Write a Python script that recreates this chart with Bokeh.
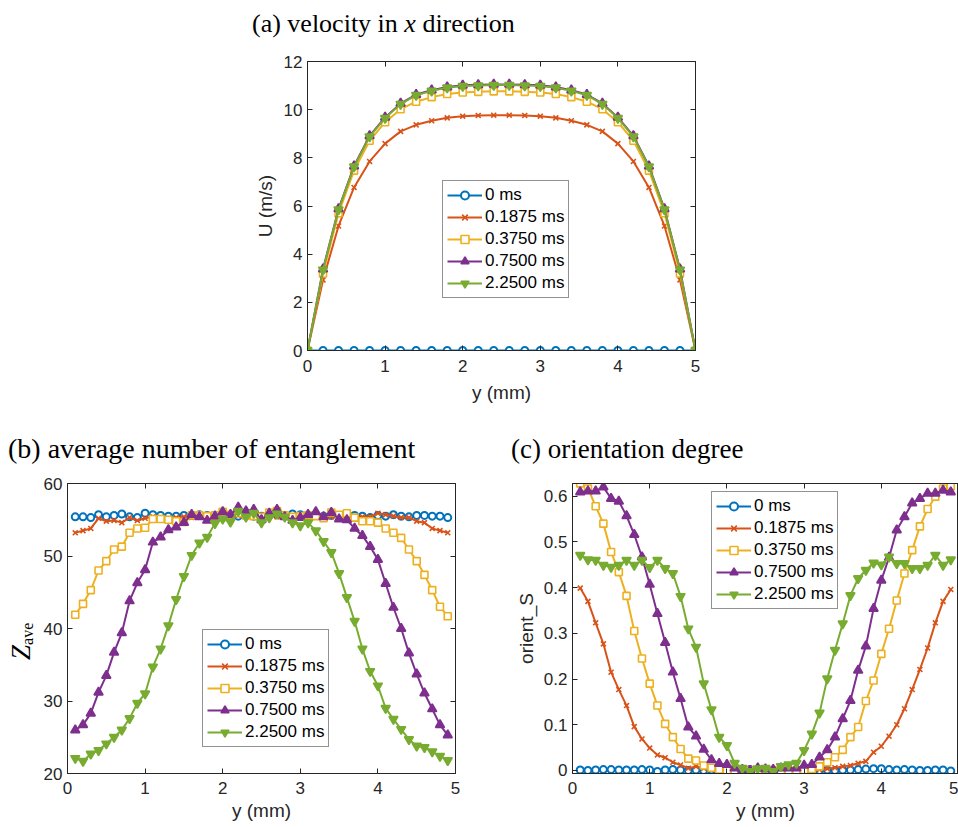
from bokeh.plotting import figure
from bokeh.layouts import column, row
from bokeh.models import Range1d, LinearAxis, FixedTicker, Legend, LegendItem, Div
from bokeh.embed import file_html
from bokeh.resources import INLINE

# ---------------- data ----------------
series_labels = ["0 ms", "0.1875 ms", "0.3750 ms", "0.7500 ms", "2.2500 ms"]
colors = ["#0072BD", "#D95319", "#EDB120", "#7E2F8E", "#77AC30"]

# (a) velocity in x direction
y_a = [0.0, 0.2, 0.4, 0.6, 0.8, 1.0, 1.2, 1.4, 1.6, 1.8, 2.0, 2.2, 2.4,
       2.6, 2.8, 3.0, 3.2, 3.4, 3.6, 3.8, 4.0, 4.2, 4.4, 4.6, 4.8, 5.0]
U_0 = [0, 0, 0, 0, 0, 0, 0, 0, 0, 0, 0, 0, 0,
       0, 0, 0, 0, 0, 0, 0, 0, 0, 0, 0, 0, 0]
U_01875 = [0, 2.93, 5.17, 6.77, 7.85, 8.59, 9.10, 9.37, 9.54, 9.66, 9.73, 9.76, 9.77,
           9.77, 9.76, 9.73, 9.66, 9.54, 9.37, 9.10, 8.59, 7.85, 6.77, 5.17, 2.93, 0]
U_0375 = [0, 3.20, 5.70, 7.47, 8.71, 9.48, 10.02, 10.33, 10.52, 10.65, 10.71, 10.74, 10.76,
          10.76, 10.74, 10.71, 10.65, 10.52, 10.33, 10.02, 9.48, 8.71, 7.47, 5.70, 3.20, 0]
U_075 = [0, 3.38, 5.88, 7.66, 8.91, 9.68, 10.26, 10.63, 10.81, 10.94, 11.01, 11.03, 11.05,
         11.05, 11.03, 11.01, 10.94, 10.81, 10.63, 10.26, 9.68, 8.91, 7.66, 5.88, 3.38, 0]
U_225 = [0, 3.35, 5.85, 7.63, 8.88, 9.65, 10.23, 10.60, 10.78, 10.91, 10.98, 11.00, 11.02,
         11.02, 11.00, 10.98, 10.91, 10.78, 10.60, 10.23, 9.65, 8.88, 7.63, 5.85, 3.35, 0]

# (b) and (c) sample positions
y_bc = [0.1, 0.2, 0.3, 0.4, 0.5, 0.6, 0.7, 0.8, 0.9, 1.0,
        1.1, 1.2, 1.3, 1.4, 1.5, 1.6, 1.7, 1.8, 1.9, 2.0,
        2.1, 2.2, 2.3, 2.4, 2.5, 2.6, 2.7, 2.8, 2.9, 3.0,
        3.1, 3.2, 3.3, 3.4, 3.5, 3.6, 3.7, 3.8, 3.9, 4.0,
        4.1, 4.2, 4.3, 4.4, 4.5, 4.6, 4.7, 4.8, 4.9]

# (b) average number of entanglement
Z_0 = [55.4, 55.4, 55.3, 55.7, 55.4, 55.6, 55.8, 55.4, 55.3, 55.9,
       55.7, 55.6, 55.5, 55.5, 55.6, 55.6, 55.7, 55.6, 55.5, 55.6,
       55.6, 55.5, 55.6, 55.5, 55.5, 55.6, 55.7, 55.6, 55.8, 55.7,
       55.6, 55.7, 55.5, 55.6, 55.5, 55.7, 55.6, 55.5, 55.3, 55.6,
       55.5, 55.7, 55.5, 55.4, 55.6, 55.6, 55.5, 55.5, 55.3]
Z_01875 = [53.2, 53.5, 53.8, 55.2, 54.8, 54.9, 54.6, 55.3, 54.9, 55.2,
           55.4, 55.3, 55.2, 55.3, 55.4, 55.3, 55.5, 55.4, 55.3, 55.5,
           55.4, 55.6, 55.5, 55.4, 55.6, 55.5, 55.4, 55.6, 55.5, 55.4,
           55.5, 55.3, 55.5, 55.4, 55.6, 55.5, 55.3, 55.4, 55.4, 55.9,
           55.7, 55.5, 55.3, 55.3, 54.8, 54.6, 53.8, 53.5, 53.2]
Z_0375 = [41.9, 43.4, 45.3, 48.0, 49.3, 50.9, 51.3, 53.2, 53.8, 53.9,
          55.1, 55.1, 55.0, 54.8, 54.7, 55.6, 55.6, 55.5, 55.6, 56.1,
          55.7, 55.9, 55.6, 55.5, 55.4, 56.0, 56.2, 55.6, 55.4, 55.5,
          55.6, 55.5, 55.2, 56.0, 55.7, 55.9, 55.3, 54.8, 54.8, 54.6,
          53.8, 53.2, 52.5, 50.9, 49.3, 47.4, 45.3, 43.0, 41.7]
Z_075 = [26.0, 26.7, 28.3, 31.2, 33.5, 36.7, 39.4, 43.8, 46.3, 48.1,
         51.9, 52.6, 53.6, 54.0, 54.6, 55.7, 55.4, 54.9, 55.5, 56.1,
         55.7, 56.7, 56.2, 56.4, 55.0, 55.9, 56.4, 55.4, 54.9, 55.3,
         55.7, 56.1, 55.4, 56.0, 55.1, 55.0, 53.8, 52.8, 51.3, 49.5,
         46.2, 42.9, 40.0, 36.6, 33.7, 31.1, 28.9, 26.7, 25.3]
Z_225 = [22.1, 21.7, 22.7, 23.2, 24.1, 25.0, 26.0, 27.6, 29.7, 31.0,
         34.7, 37.2, 40.4, 44.0, 47.2, 50.1, 51.8, 52.6, 54.5, 55.1,
         54.7, 56.2, 55.4, 55.9, 54.6, 55.3, 55.8, 55.4, 54.6, 54.2,
         54.6, 53.5, 52.0, 50.5, 47.6, 44.3, 41.0, 37.2, 34.1, 32.1,
         29.0, 27.5, 26.1, 24.7, 23.8, 23.6, 23.0, 22.4, 21.8]

# (c) orientation degree
S_0 = [0.001, 0.000, 0.001, 0.002, 0.002, 0.001, 0.001, 0.001, 0.002, 0.001,
       -0.002, 0.001, 0.002, 0.001, 0.000, 0.001, 0.000, 0.001, 0.001, -0.001,
       0.000, 0.001, 0.002, 0.001, 0.000, 0.001, 0.000, 0.000, 0.001, 0.002,
       0.001, 0.000, 0.001, 0.000, 0.001, 0.001, 0.002, 0.003, 0.004, 0.004,
       0.002, 0.001, 0.002, 0.001, 0.000, 0.000, 0.001, 0.001, -0.001]
S_01875 = [0.399, 0.370, 0.323, 0.277, 0.215, 0.177, 0.142, 0.096, 0.069, 0.049,
           0.034, 0.028, 0.018, 0.012, 0.005, 0.009, 0.005, 0.004, 0.003, 0.002,
           0.002, 0.001, 0.001, 0.001, 0.001, 0.000, 0.000, 0.001, 0.001, 0.001,
           0.002, 0.002, 0.004, 0.006, 0.009, 0.011, 0.016, 0.020, 0.040, 0.053,
           0.075, 0.100, 0.135, 0.177, 0.221, 0.268, 0.323, 0.370, 0.396]
S_0375 = [0.628, 0.617, 0.578, 0.540, 0.478, 0.434, 0.382, 0.305, 0.245, 0.190,
          0.142, 0.102, 0.073, 0.047, 0.026, 0.022, 0.011, 0.006, 0.002, 0.000,
          0.000, 0.001, 0.000, 0.000, 0.001, 0.000, 0.000, 0.000, 0.000, 0.001,
          0.003, 0.009, 0.018, 0.029, 0.045, 0.073, 0.095, 0.152, 0.197, 0.255,
          0.310, 0.372, 0.431, 0.482, 0.534, 0.572, 0.599, 0.617, 0.622]
S_075 = [0.609, 0.611, 0.611, 0.620, 0.595, 0.589, 0.557, 0.516, 0.467, 0.407,
         0.343, 0.280, 0.215, 0.157, 0.095, 0.075, 0.046, 0.023, 0.015, 0.013,
         0.005, 0.002, 0.000, 0.005, 0.003, 0.002, 0.005, 0.005, 0.005, 0.011,
         0.013, 0.029, 0.045, 0.073, 0.113, 0.153, 0.219, 0.272, 0.354, 0.416,
         0.466, 0.526, 0.555, 0.585, 0.595, 0.606, 0.606, 0.613, 0.609]
S_225 = [0.471, 0.461, 0.460, 0.449, 0.445, 0.449, 0.460, 0.449, 0.460, 0.444,
         0.460, 0.442, 0.431, 0.381, 0.310, 0.270, 0.190, 0.133, 0.073, 0.055,
         0.016, 0.005, -0.002, 0.004, 0.005, -0.002, 0.009, 0.013, 0.016, 0.044,
         0.080, 0.126, 0.201, 0.263, 0.321, 0.383, 0.420, 0.438, 0.454, 0.450,
         0.467, 0.453, 0.453, 0.442, 0.442, 0.449, 0.471, 0.449, 0.461]

x_ticks = [0, 1, 2, 3, 4, 5]
ticks_a = [0, 2, 4, 6, 8, 10, 12]
ticks_b = [20, 30, 40, 50, 60]
ticks_c = [0, 0.1, 0.2, 0.3, 0.4, 0.5, 0.6]

# ---------------- styling ----------------
INK = "#262626"
SANS = "Liberation Sans"
markers = ["circle", "x", "square", "triangle", "inverted_triangle"]
msizes = [7, 7, 7, 9, 9]
mlw = [2.0, 1.6, 1.6, 1.6, 1.6]
mfill = ["white", None, "white", "self", "self"]


def style_axis(ax, ticks, labels=True, standoff=6):
    ax.ticker = FixedTicker(ticks=ticks)
    ax.major_tick_in = 5
    ax.major_tick_out = 0
    ax.minor_tick_line_color = None
    ax.axis_line_color = INK
    ax.major_tick_line_color = INK
    ax.axis_line_width = 1
    ax.major_label_text_font = SANS
    if labels:
        ax.major_label_text_font_size = "17px"
        ax.major_label_text_color = INK
        ax.major_label_standoff = standoff
    else:
        ax.major_label_text_font_size = "1px"
        ax.major_label_text_color = None
        ax.major_label_standoff = 0
    ax.axis_label_text_font = SANS
    ax.axis_label_text_font_size = "19px"
    ax.axis_label_text_font_style = "normal"
    ax.axis_label_text_color = INK


def make_fig(w, h, bl, br, bt, bb, xr, yr, yticks, right_axis=True):
    p = figure(width=w, height=h, x_range=Range1d(*xr), y_range=Range1d(*yr),
               output_backend="svg", toolbar_location=None,
               min_border_left=bl, min_border_right=br,
               min_border_top=bt, min_border_bottom=bb)
    p.grid.visible = False
    p.outline_line_color = INK
    p.outline_line_width = 1
    p.background_fill_color = "white"
    p.border_fill_color = "white"
    xb = p.below[0]
    yl = p.left[0]
    style_axis(xb, x_ticks, True, 9)
    style_axis(yl, yticks, True, 5)
    top = LinearAxis()
    style_axis(top, x_ticks, False)
    p.add_layout(top, "above")
    if right_axis:
        right = LinearAxis()
        style_axis(right, yticks, False)
        p.add_layout(right, "right")
    return p, xb, yl


def add_series(p, xs, ys_list, loc):
    items = []
    for ys, lab, col, mk, ms, lw, mf in zip(ys_list, series_labels, colors, markers,
                                            msizes, mlw, mfill):
        r1 = p.line(xs, ys, line_color=col, line_width=2)
        fc = col if mf == "self" else mf
        r2 = p.scatter(xs, ys, marker=mk, size=ms, line_color=col, line_width=lw,
                       fill_color=fc)
        items.append(LegendItem(label=lab, renderers=[r1, r2]))
    leg = Legend(items=items, location=loc, border_line_color=INK, border_line_width=1,
                 background_fill_color="white", background_fill_alpha=1.0,
                 padding=4, spacing=2, glyph_width=35, glyph_height=20,
                 label_height=20, label_standoff=3, margin=0,
                 label_text_font=SANS, label_text_font_size="17px",
                 label_text_color="black")
    p.add_layout(leg)


def title_div(html, w, h, pad_left, pad_top, size):
    return Div(text=(f'<div style="box-sizing:border-box; height:{h}px; '
                     f'padding:{pad_top}px 0 0 {pad_left}px; margin:0; '
                     f"font-family:'Liberation Serif'; font-size:{size}px; line-height:{size}px; "
                     f'color:black; white-space:nowrap;">{html}</div>'),
               width=w, height=h, margin=0)


# ---------------- (a) ----------------
div_a = title_div("(a) velocity in <i>x</i> direction", 958, 43, 252, 11, 26)
pa, xa, ya = make_fig(958, 385, 307, 263, 18, 78, (0, 5), (0, 12), ticks_a)
xa.axis_label = "y (mm)"
xa.axis_label_standoff = 7
ya.axis_label = "U (m/s)"
ya.axis_label_standoff = 5
add_series(pa, y_a, [U_0, U_01875, U_0375, U_075, U_225], (135, 52))

# ---------------- (b) ----------------
div_b = title_div("(b) average number of entanglement", 480, 38, 8, 7, 28)
z_html = ('<div style="width:0; height:0; transform-origin:0 0; '
          'transform:translate(8px, 194px) rotate(-90deg);">'
          '<span style="white-space:nowrap; font-family:\'Liberation Serif\'; '
          'font-size:27px; line-height:27px; color:black;">'
          '<i>Z</i><span style="font-size:16px; position:relative; top:3px;">ave</span>'
          '</span></div>')
div_z = Div(text=z_html, width=36, height=361, margin=0)
pb, xbb, ybb = make_fig(444, 361, 31, 25, 17, 54, (0, 5), (20, 60), ticks_b)
xbb.axis_label = "y (mm)"
xbb.axis_label_standoff = 3
xbb.major_label_standoff = 8
add_series(pb, y_bc, [Z_0, Z_01875, Z_0375, Z_075, Z_225], (135, 26))

# ---------------- (c) ----------------
div_c = title_div("(c) orientation degree", 478, 38, 31, 8, 27)
pc, xc, yc = make_fig(478, 361, 92, 0, 17, 54, (0, 5), (-0.0066, 0.6278), ticks_c,
                      right_axis=False)
xc.axis_label = "y (mm)"
xc.axis_label_standoff = 3
xc.major_label_standoff = 8
yc.axis_label = "orient_S"
yc.axis_label_standoff = 4
yc.major_label_overrides = {0: "0"}
add_series(pc, y_bc, [S_0, S_01875, S_0375, S_075, S_225], (139, 164))

layout = column(div_a, pa,
                row(column(div_b, row(div_z, pb)), column(div_c, pc)))
open("out.html", "w").write(file_html(layout, INLINE))
